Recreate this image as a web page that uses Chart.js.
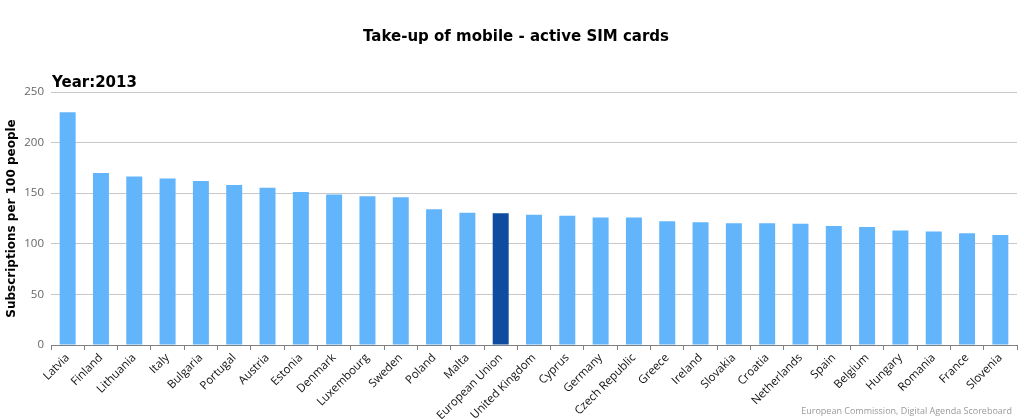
<!DOCTYPE html>
<html>
<head>
<meta charset="utf-8">
<script src="https://cdn.jsdelivr.net/npm/chart.js@4.4.0/dist/chart.umd.min.js"></script>
<style>
  html, body { margin: 0; padding: 0; background: #fff; }
  #wrap { width: 1024px; height: 419px; position: relative; }
</style>
</head>
<body>
<div id="wrap"><canvas id="chart" width="1024" height="419"></canvas></div>
<script>
// Data
const countries = ['Latvia', 'Finland', 'Lithuania', 'Italy', 'Bulgaria', 'Portugal', 'Austria', 'Estonia',
    'Denmark', 'Luxembourg', 'Sweden', 'Poland', 'Malta', 'European Union', 'United Kingdom', 'Cyprus',
    'Germany', 'Czech Republic', 'Greece', 'Ireland', 'Slovakia', 'Croatia', 'Netherlands', 'Spain',
    'Belgium', 'Hungary', 'Romania', 'France', 'Slovenia'];
const subscriptions = [230, 170, 166.5, 164.5, 162, 158, 155.3, 151.3,
    148.7, 147.1, 146.1, 134.2, 130.6, 130.3, 128.6, 127.6,
    125.9, 125.9, 122.3, 121.4, 120.4, 120.4, 119.7, 117.7,
    116.7, 113.1, 112.1, 110.5, 108.8];
const yTicks = [0, 50, 100, 150, 200, 250];

const barColor = '#62b5fb';
const euColor = '#0e4c9f';

// Title, year label and credits
const textPlugin = {
    id: 'texts',
    afterDraw(chart) {
        const ctx = chart.ctx;
        ctx.save();
        ctx.fillStyle = '#000';
        ctx.textBaseline = 'middle';
        ctx.font = 'bold 15px "DejaVu Sans"';
        ctx.textAlign = 'center';
        ctx.fillText('Take-up of mobile - active SIM cards', 516, 37);
        ctx.textAlign = 'left';
        ctx.fillText('Year:2013', 52, 83);
        ctx.font = '9px "Open Sans"';
        ctx.fillStyle = '#999';
        ctx.textAlign = 'right';
        ctx.fillText('European Commission, Digital Agenda Scoreboard', 1012, 411);
        ctx.restore();
    }
};

new Chart(document.getElementById('chart'), {
    type: 'bar',
    data: {
        labels: countries,
        datasets: [{
            data: subscriptions,
            backgroundColor: countries.map(c => c === 'European Union' ? euColor : barColor),
            barPercentage: 0.48,
            categoryPercentage: 1
        }]
    },
    options: {
        responsive: false,
        animation: false,
        layout: { padding: { top: 92, left: 0, right: 7, bottom: 0 } },
        plugins: {
            legend: { display: false },
            tooltip: { enabled: false },
            title: { display: false }
        },
        scales: {
            x: {
                offset: true,
                grid: {
                    offset: true,
                    drawOnChartArea: false,
                    drawTicks: true,
                    tickLength: 5,
                    color: '#808080'
                },
                border: { display: true, color: '#808080', width: 1 },
                ticks: {
                    autoSkip: false,
                    maxRotation: 45,
                    minRotation: 45,
                    padding: 1,
                    color: '#111',
                    font: { family: '"Open Sans"', size: 11.5 }
                },
                afterFit(scale) { scale.height = 74; }
            },
            y: {
                min: 0,
                max: 250,
                afterBuildTicks(scale) { scale.ticks = yTicks.map(v => ({ value: v })); },
                grid: { color: '#c8c8c8', drawTicks: false },
                border: { display: false },
                ticks: {
                    padding: 7,
                    color: '#666',
                    font: { family: '"Open Sans"', size: 11.5 }
                },
                title: {
                    display: true,
                    text: 'Subscriptions per 100 people',
                    color: '#000',
                    font: { family: '"DejaVu Sans"', size: 12, weight: 'bold' },
                    padding: { top: 5, bottom: 2 }
                },
                afterFit(scale) { scale.width = 51; }
            }
        }
    },
    plugins: [textPlugin]
});
</script>
</body>
</html>
